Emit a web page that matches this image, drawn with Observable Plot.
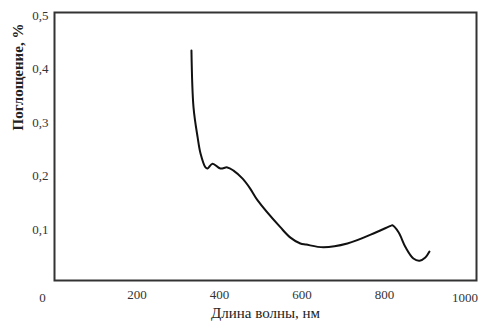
<!DOCTYPE html>
<html>
<head>
<meta charset="utf-8">
<script src="https://cdn.jsdelivr.net/npm/d3@7"></script>
<script src="https://cdn.jsdelivr.net/npm/@observablehq/plot@0.6"></script>
<style>
  html, body { margin: 0; padding: 0; background: #fff; }
  svg { display: block; }
</style>
</head>
<body>
<div id="chart"></div>
<script>
const wavelength = [332, 337, 347, 354, 366, 371, 383, 402, 419, 434, 456, 474, 492, 548, 572, 596, 610, 652, 710, 780, 815, 819, 834, 851, 870, 885, 899, 909];
const absorption = [0.429, 0.323, 0.267, 0.237, 0.211, 0.209, 0.218, 0.209, 0.211, 0.205, 0.190, 0.172, 0.150, 0.099, 0.080, 0.069, 0.067, 0.062, 0.069, 0.090, 0.102, 0.103, 0.090, 0.062, 0.041, 0.037, 0.043, 0.054];
const xTicks = [200, 400, 600, 800];
const xTickLast = [1000];
const yTicks = [0.1, 0.2, 0.3, 0.4, 0.5];
const xLabel = "Длина волны, нм";
const yLabel = "Поглощение, %";

const data = wavelength.map((w, i) => ({w, a: absorption[i]}));
const fmt = d => d3.format(".1f")(d).replace(".", ",");

const chart = Plot.plot({
  width: 478,
  height: 323,
  marginLeft: 54,
  marginRight: 2,
  marginTop: 12,
  marginBottom: 43,
  style: {fontFamily: "Liberation Serif, serif", fontSize: "13px", color: "#333", background: "#fff"},
  x: {domain: [0, 1023]},
  y: {domain: [0, 0.5]},
  marks: [
    Plot.frame({stroke: "#333", strokeWidth: 2}),
    Plot.axisY(yTicks, {tickSize: 0, tickPadding: 6, tickFormat: fmt, dy: 3, label: null, fontSize: 13}),
    Plot.axisX(xTicks, {tickSize: 0, tickPadding: 9, tickFormat: d => String(d), label: null, fontSize: 13}),
    Plot.text(xTickLast, {x: d => d, frameAnchor: "bottom", dy: 21, dx: -2, text: d => String(d), fontSize: 13, fill: "#333"}),
    Plot.text([0], {x: d => d, frameAnchor: "bottom", dy: 21, dx: -12, text: d => "0", fontSize: 13, fill: "#333"}),
    Plot.text([xLabel], {frameAnchor: "bottom", dy: 37, text: d => d, fontSize: 15, fill: "#222"}),
    Plot.text([yLabel], {frameAnchor: "left", dx: -36, dy: -16, rotate: -90, text: d => d, fontSize: 15, fontWeight: "bold", fill: "#222"}),
    Plot.line(data, {x: "w", y: "a", curve: "catmull-rom", stroke: "#111", strokeWidth: 2})
  ]
});
document.getElementById("chart").appendChild(chart);
</script>
</body>
</html>
